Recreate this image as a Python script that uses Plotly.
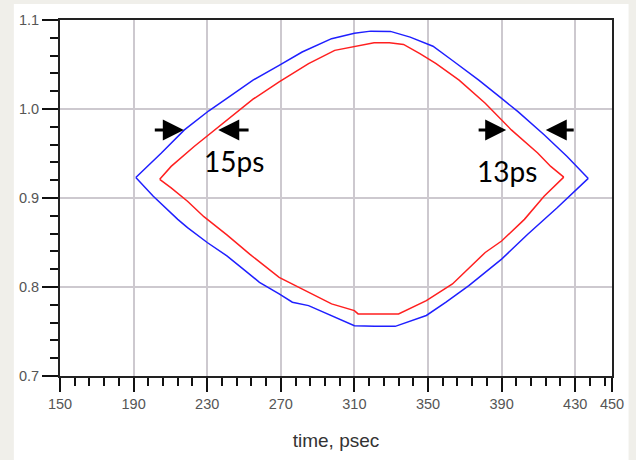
import plotly.graph_objects as go

# ---- data (time in psec, voltage) ----
blue_upper_t = [191.2, 205.1, 217.6, 230.9, 240.7, 254.9, 269.1, 281.6, 297.6, 310.0, 318.9, 329.6,
                340.3, 352.7, 363.3, 377.6, 390.0, 398.9, 413.1, 425.6, 437.1]
blue_upper_v = [0.923, 0.9505, 0.9765, 0.998, 1.012, 1.0324, 1.049, 1.064, 1.079, 1.085, 1.0875, 1.0872,
                1.0808, 1.0705, 1.0545, 1.0324, 1.0119, 0.997, 0.971, 0.9467, 0.922]
blue_lower_t = [191.2, 200.7, 214.0, 219.3, 230.0, 240.7, 249.6, 258.4, 269.1, 276.3, 285.1, 297.6,
                310.0, 321.0, 332.2, 349.1, 359.8, 372.2, 390.0, 404.2, 420.2, 437.1]
blue_lower_v = [0.923, 0.902, 0.876, 0.8667, 0.85, 0.835, 0.8201, 0.8053, 0.7922, 0.7829, 0.7791, 0.7679,
                0.7565, 0.7558, 0.7558, 0.768, 0.783, 0.8015, 0.8313, 0.8592, 0.889, 0.922]

red_upper_t = [204.2, 210.4, 222.9, 235.3, 244.2, 254.9, 269.1, 285.1, 299.3, 310.0, 320.7, 329.0,
               336.7, 345.6, 354.4, 366.9, 381.1, 395.3, 409.6, 416.7, 423.8]
red_upper_v = [0.921, 0.9355, 0.9579, 0.9784, 0.9933, 1.011, 1.0305, 1.051, 1.0659, 1.0705, 1.0745, 1.0745,
               1.0726, 1.0622, 1.0511, 1.0324, 1.0064, 0.9765, 0.9505, 0.9355, 0.9235]
red_lower_t = [204.2, 210.4, 219.3, 228.2, 240.7, 253.1, 269.1, 285.1, 297.6, 310.0, 312.0, 334.0,
               349.1, 363.3, 381.1, 390.0, 402.4, 413.1, 423.8]
red_lower_v = [0.921, 0.9114, 0.8964, 0.879, 0.8585, 0.8369, 0.8108, 0.7941, 0.781, 0.7735, 0.7698, 0.7698,
               0.7847, 0.8034, 0.8388, 0.8517, 0.876, 0.902, 0.9235]

x_tickvals = [150, 190, 230, 270, 310, 350, 390, 430, 450]
y_tickvals = [0.7, 0.8, 0.9, 1.0, 1.1]
y_ticktext = ["0.7", "0.8", "0.9", "1.0", "1.1"]

# arrows: (tail_x, head_x, y)
arrows = [(200.7, 217.3, 0.9765), (253.3, 236.0, 0.9765),
          (376.7, 392.5, 0.9765), (430.0, 414.0, 0.9765)]
labels = [("15ps", 244.8, 0.942), ("13ps", 392.8, 0.9308)]

fig = go.Figure()
for t, v, c in [(blue_upper_t, blue_upper_v, "#1f1fff"), (blue_lower_t, blue_lower_v, "#1f1fff"),
                (red_upper_t, red_upper_v, "#ff1f1f"), (red_lower_t, red_lower_v, "#ff1f1f")]:
    fig.add_trace(go.Scatter(x=t, y=v, mode="lines", line=dict(color=c, width=1.5),
                             showlegend=False, hoverinfo="skip"))

for tx, hx, y in arrows:
    fig.add_annotation(x=hx, y=y, ax=tx, ay=y, xref="x", yref="y", axref="x", ayref="y",
                       text="", showarrow=True, arrowhead=2, arrowsize=1.4, arrowwidth=3,
                       arrowcolor="black")
for txt, x, y in labels:
    fig.add_annotation(x=x, y=y, xref="x", yref="y", text=txt, showarrow=False,
                       font=dict(family="Lato", size=28, color="black"),
                       xanchor="center", yanchor="middle")

# white panel on gray page
fig.add_shape(type="rect", xref="paper", yref="paper", x0=-0.0836, x1=1.03, y0=-0.24, y1=1.0448,
              fillcolor="white", line=dict(width=0), layer="below")

fig.update_xaxes(range=[150, 450], tickmode="array", tickvals=x_tickvals,
                 ticks="outside", ticklen=14, tickwidth=2, tickcolor="#111",
                 showline=True, linecolor="#222", linewidth=2, mirror=True,
                 showgrid=True, gridcolor="#cdc9cf", gridwidth=2, zeroline=False,
                 minor=dict(tickmode="linear", tick0=150, dtick=8, ticks="outside", ticklen=8,
                            tickwidth=2, tickcolor="#111", showgrid=False),
                 tickfont=dict(family="Liberation Sans", size=14.5, color="#555"),
                 title=dict(text="time, psec", standoff=22,
                            font=dict(family="Liberation Sans", size=19, color="#333")))
fig.update_yaxes(range=[0.7, 1.1], tickmode="array", tickvals=y_tickvals, ticktext=y_ticktext,
                 ticks="outside", ticklen=16, tickwidth=2, tickcolor="#111",
                 showline=True, linecolor="#222", linewidth=2, mirror=True,
                 showgrid=True, gridcolor="#cdc9cf", gridwidth=2, zeroline=False,
                 minor=dict(tickmode="linear", tick0=0.7, dtick=0.02, ticks="outside", ticklen=8,
                            tickwidth=2, tickcolor="#111", showgrid=False),
                 tickfont=dict(family="Liberation Sans", size=14.5, color="#555"))

fig.update_layout(width=636, height=460, margin=dict(l=60, r=13.5, t=20, b=82.5),
                  paper_bgcolor="#f0efea", plot_bgcolor="white", autosize=False)
fig.write_html("out.html")
